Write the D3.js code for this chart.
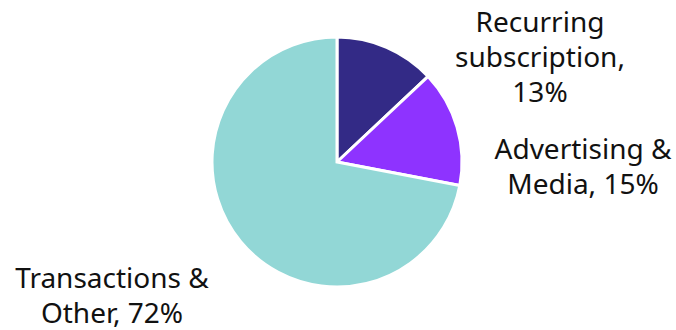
<!DOCTYPE html>
<html>
<head>
<meta charset="utf-8">
<script src="https://cdn.jsdelivr.net/npm/d3@7"></script>
<style>
  html, body { margin: 0; padding: 0; background: #fff; }
  svg { display: block; }
</style>
</head>
<body>
<svg id="chart" width="676" height="330"></svg>
<script>
// Revenue mix by segment
const categories = ["Recurring subscription", "Advertising & Media", "Transactions & Other"];
const shares = [13, 15, 72];
const colors = ["#332A86", "#8E33FF", "#92D7D6"];
// Label lines, as wrapped on the chart
const labelLines = [
  ["Recurring", "subscription,", "13%"],
  ["Advertising &", "Media, 15%"],
  ["Transactions &", "Other, 72%"]
];

const svg = d3.select("#chart");
const cx = 337, cy = 162, radius = 125;

const pie = d3.pie().sort(null).value(d => d.value);
const arc = d3.arc().innerRadius(0).outerRadius(radius);

const data = categories.map((c, i) => ({ name: c, value: shares[i], lines: labelLines[i], color: colors[i] }));
const arcs = pie(data);

const g = svg.append("g").attr("transform", `translate(${cx},${cy})`);
g.selectAll("path")
  .data(arcs)
  .join("path")
  .attr("d", arc)
  .attr("fill", d => d.data.color)
  .attr("stroke", "#fff")
  .attr("stroke-width", 3)
  .attr("stroke-linejoin", "miter");

// Label anchor points (centre x, first baseline y)
const labelPos = [
  { x: 540, y: 32 },
  { x: 583, y: 159 },
  { x: 112, y: 288 }
];
const lineHeight = 35;

svg.selectAll("text.lbl")
  .data(data)
  .join("text")
  .attr("class", "lbl")
  .attr("text-anchor", "middle")
  .attr("font-family", "'Noto Sans', sans-serif")
  .attr("font-size", 28)
  .attr("fill", "#111")
  .each(function (d, i) {
    const t = d3.select(this);
    d.lines.forEach((ln, j) => {
      t.append("tspan")
        .attr("x", labelPos[i].x)
        .attr("y", labelPos[i].y + j * lineHeight)
        .text(ln);
    });
  });
</script>
</body>
</html>
